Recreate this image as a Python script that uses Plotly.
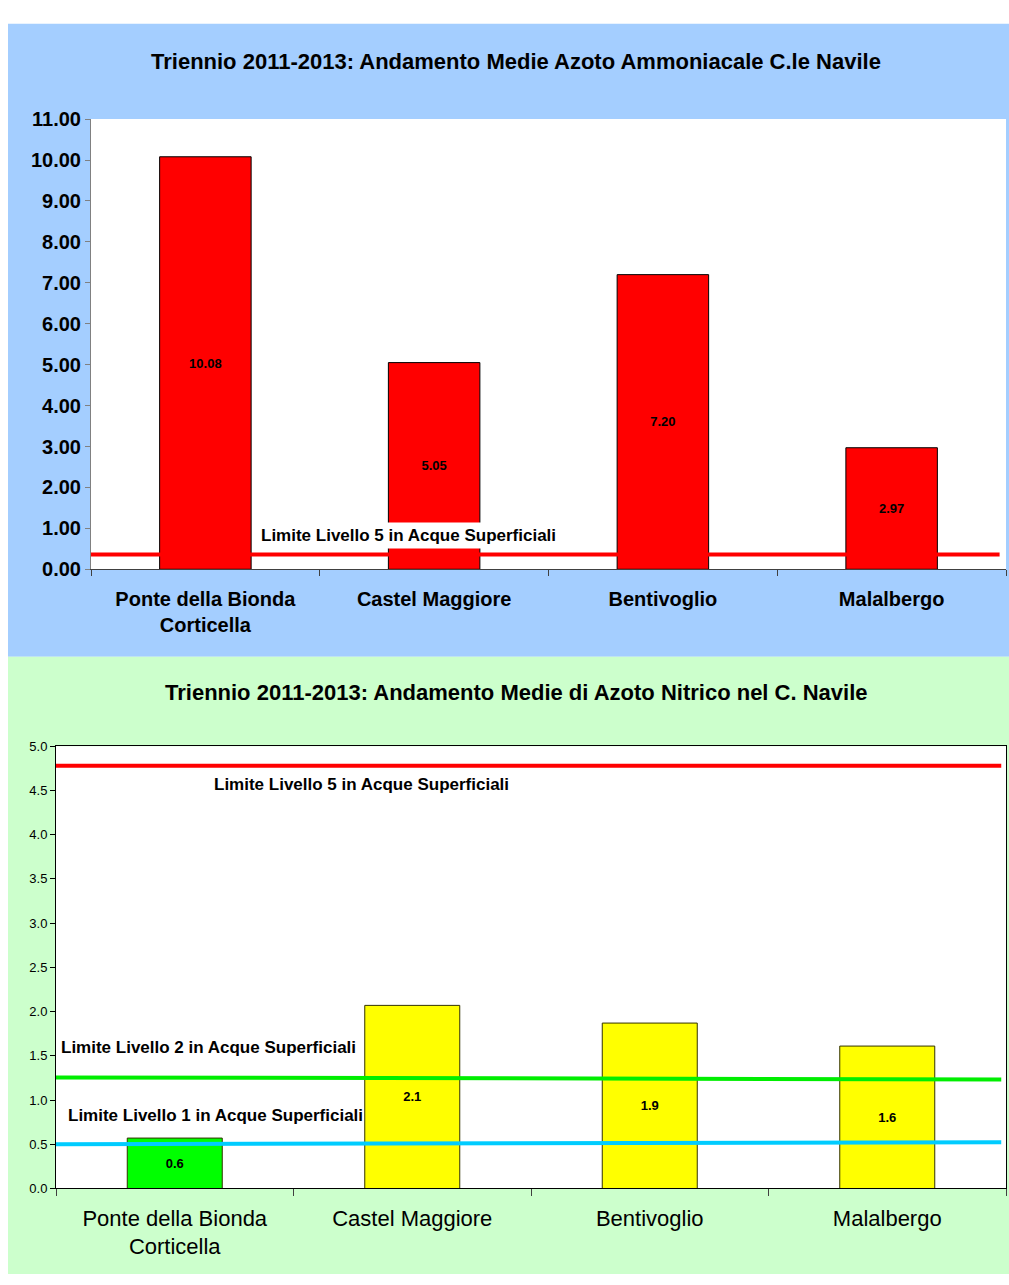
import plotly.graph_objects as go

W, H = 1009, 1285

# ---- data ----
stations = ["Ponte della Bionda<br>Corticella", "Castel Maggiore", "Bentivoglio", "Malalbergo"]
ammonia = [10.08, 5.05, 7.20, 2.97]
ammonia_limit5 = [0.36, 0.36]

nitrate = [0.57, 2.07, 1.87, 1.61]
nitrate_colors = ["#00FF00", "#FFFF00", "#FFFF00", "#FFFF00"]
nitrate_limit5 = [4.78, 4.78]
nitrate_limit2 = [1.256, 1.233]
nitrate_limit1 = [0.50, 0.522]

title_top = "Triennio 2011-2013: Andamento Medie Azoto Ammoniacale C.le Navile"
title_bot = "Triennio 2011-2013: Andamento Medie di Azoto Nitrico nel C. Navile"
lbl5 = "Limite Livello 5 in Acque Superficiali"
lbl2 = "Limite Livello 2 in Acque Superficiali"
lbl1 = "Limite Livello 1 in Acque Superficiali"

FONT = "Liberation Sans, Arial, sans-serif"

def fx(px):
    return px / W

def fy(py):
    return 1 - py / H

fig = go.Figure()

fig.add_trace(go.Bar(
    x=stations, y=ammonia, xaxis="x", yaxis="y",
    marker=dict(color="#FF0000", line=dict(color="#000000", width=1)),
    width=0.4, text=[f"{v:.2f}" for v in ammonia], textposition="inside",
    insidetextanchor="middle", textangle=0,
    textfont=dict(family=FONT, size=13, color="#000000", weight="bold"),
    hoverinfo="skip", showlegend=False,
))

fig.add_trace(go.Bar(
    x=stations, y=nitrate, xaxis="x2", yaxis="y2",
    marker=dict(color=nitrate_colors, line=dict(color="#333300", width=1)),
    width=0.4, text=[f"{v:.1f}" for v in nitrate], textposition="inside",
    insidetextanchor="middle", textangle=0,
    textfont=dict(family=FONT, size=13, color="#000000", weight="bold"),
    hoverinfo="skip", showlegend=False,
))

shapes = [
    dict(type="rect", xref="paper", yref="paper", x0=fx(8), x1=1, y0=fy(657), y1=fy(13),
         fillcolor="#A4CEFF", line=dict(width=0), layer="below"),
    dict(type="rect", xref="paper", yref="paper", x0=fx(8), x1=1, y0=0, y1=fy(657),
         fillcolor="#CCFFCC", line=dict(width=0), layer="below"),
    dict(type="line", xref="x domain", yref="y", x0=0, x1=0.993,
         y0=ammonia_limit5[0], y1=ammonia_limit5[1], line=dict(color="#FF0000", width=4), layer="above"),
    dict(type="line", xref="x2 domain", yref="y2", x0=0, x1=0.995,
         y0=nitrate_limit5[0], y1=nitrate_limit5[1], line=dict(color="#FF0000", width=4), layer="above"),
    dict(type="line", xref="x2 domain", yref="y2", x0=0, x1=0.995,
         y0=nitrate_limit2[0], y1=nitrate_limit2[1], line=dict(color="#00EE00", width=4), layer="above"),
    dict(type="line", xref="x2 domain", yref="y2", x0=0, x1=0.995,
         y0=nitrate_limit1[0], y1=nitrate_limit1[1], line=dict(color="#00CCFF", width=4), layer="above"),
]

annotations = [
    dict(text=f"<b>{title_top}</b>", xref="paper", yref="paper", x=fx(516), y=fy(51),
         showarrow=False, font=dict(family=FONT, size=22, color="#000000"), xanchor="center", yanchor="middle"),
    dict(text=f"<b>{title_bot}</b>", xref="paper", yref="paper", x=fx(516), y=fy(693),
         showarrow=False, font=dict(family=FONT, size=22, color="#000000"), xanchor="center", yanchor="middle"),
    dict(text=f"<b>{lbl5}</b>", xref="paper", yref="paper", x=fx(408), y=fy(534),
         showarrow=False, font=dict(family=FONT, size=17, color="#000000"), bgcolor="#FFFFFF",
         borderpad=3, xanchor="center", yanchor="middle"),
    dict(text=f"<b>{lbl5}</b>", xref="paper", yref="paper", x=fx(361), y=fy(787),
         showarrow=False, font=dict(family=FONT, size=17, color="#000000"), xanchor="center", yanchor="middle"),
    dict(text=f"<b>{lbl2}</b>", xref="paper", yref="paper", x=fx(208), y=fy(1055),
         showarrow=False, font=dict(family=FONT, size=17, color="#000000"), xanchor="center", yanchor="middle"),
    dict(text=f"<b>{lbl1}</b>", xref="paper", yref="paper", x=fx(215), y=fy(1124),
         showarrow=False, font=dict(family=FONT, size=17, color="#000000"), xanchor="center", yanchor="middle"),
]

fig.update_layout(
    width=W, height=H,
    margin=dict(l=0, r=0, t=0, b=0),
    paper_bgcolor="#FFFFFF",
    plot_bgcolor="rgba(0,0,0,0)",
    font=dict(family=FONT, color="#000000"),
    bargap=0.6,
    showlegend=False,
    shapes=shapes,
    annotations=annotations,
    xaxis=dict(domain=[fx(91), fx(1006)], anchor="y", type="category",
               tickson="boundaries", ticks="outside", ticklen=6, tickcolor="#404040",
               showline=True, linecolor="#404040", linewidth=1, showgrid=False,
               ticklabelstandoff=12,
               tickfont=dict(family=FONT, size=20, color="#000000", weight="bold")),
    yaxis=dict(domain=[fy(568), fy(110)], anchor="x", range=[0, 11], dtick=1, tickformat=".2f",
               ticks="outside", ticklen=5, tickcolor="#808080",
               showline=True, linecolor="#808080", linewidth=1, showgrid=False, zeroline=False,
               tickfont=dict(family=FONT, size=20, color="#000000", weight="bold")),
    xaxis2=dict(domain=[fx(56), fx(1006)], anchor="y2", type="category",
                tickson="boundaries", ticks="outside", ticklen=7, tickcolor="#404040",
                showline=True, linecolor="#000000", linewidth=1, mirror=True, showgrid=False,
                ticklabelstandoff=10,
                tickfont=dict(family=FONT, size=22, color="#000000")),
    yaxis2=dict(domain=[fy(1198), fy(748)], anchor="x2", range=[0, 5], dtick=0.5, tickformat=".1f",
                ticks="outside", ticklen=5, tickcolor="#000000",
                showline=True, linecolor="#000000", linewidth=1, mirror=True, showgrid=False, zeroline=False,
                tickfont=dict(family=FONT, size=13, color="#000000")),
)

fig.add_shape(type="rect", xref="x domain", yref="y domain", x0=0, x1=1, y0=0, y1=1,
              fillcolor="#FFFFFF", line=dict(width=0), layer="below")
fig.add_shape(type="rect", xref="x2 domain", yref="y2 domain", x0=0, x1=1, y0=0, y1=1,
              fillcolor="#FFFFFF", line=dict(width=0), layer="below")

fig.write_html("out.html")
